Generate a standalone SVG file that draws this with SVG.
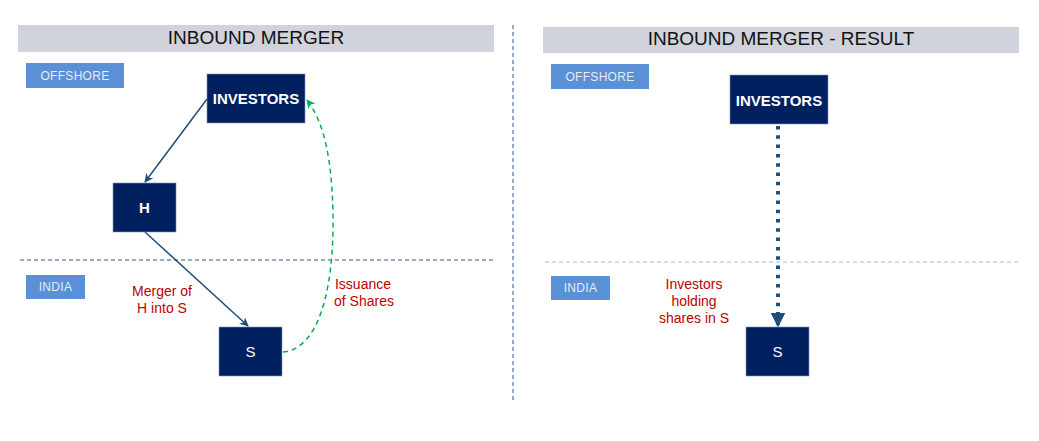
<svg xmlns="http://www.w3.org/2000/svg" width="1039" height="441" viewBox="0 0 1039 441">
<style>
.title{fill:#d0d3dc}
.ttext{font-family:"Liberation Sans",Arial,sans-serif;font-size:19px;fill:#111;text-anchor:middle}
.lbl{fill:#5990d6}
.ltext{font-family:"Liberation Sans",Arial,sans-serif;font-size:12px;fill:#e4ecf7;text-anchor:middle;letter-spacing:0.3px}
.node{fill:#002060;stroke:#8093b8;stroke-width:0.6}
.ntext{font-family:"Liberation Sans",Arial,sans-serif;font-size:15px;font-weight:bold;fill:#fff;text-anchor:middle}
.stext{font-family:"Liberation Sans",Arial,sans-serif;font-size:15px;font-weight:normal;fill:#fff;text-anchor:middle}
.red{font-family:"Liberation Sans",Arial,sans-serif;font-size:14px;fill:#c00000;text-anchor:middle}
</style>
<defs>
<marker id="ab" viewBox="0 0 10 10" refX="9" refY="5" markerWidth="6" markerHeight="6" orient="auto" markerUnits="strokeWidth">
<path d="M0,0 L10,5 L0,10 L3,5 z" fill="#1f4e79"/>
</marker>
<marker id="ag" viewBox="0 0 10 10" refX="9" refY="5" markerWidth="6" markerHeight="6" orient="auto" markerUnits="strokeWidth">
<path d="M0,0 L10,5 L0,10 L3,5 z" fill="#00b050"/>
</marker>
<marker id="ad" viewBox="0 0 10 10" refX="9" refY="5" markerWidth="3.6" markerHeight="3.6" orient="auto" markerUnits="strokeWidth">
<path d="M0,0 L10,5 L0,10 z" fill="#1f4e79"/>
</marker>
</defs>
<rect width="1039" height="441" fill="#fff"/>
<g id="frame">
<rect class="title" x="18" y="25" width="476" height="27"/>
<text class="ttext" x="256" y="44">INBOUND MERGER</text>
<rect class="title" x="543" y="27" width="476" height="26"/>
<text class="ttext" x="781" y="45">INBOUND MERGER - RESULT</text>
<line x1="513" y1="25" x2="513" y2="403" stroke="#2f5597" stroke-width="1" stroke-dasharray="4 3"/>
<line x1="20" y1="260" x2="495" y2="260" stroke="#2f5597" stroke-width="1" stroke-dasharray="4 3"/>
<line x1="545" y1="262" x2="1019" y2="262" stroke="#adb9ca" stroke-width="1.2" stroke-dasharray="4 3"/>
</g>
<g id="offshore-left"><rect class="lbl" x="26" y="63" width="98" height="25"/><text class="ltext" x="75" y="80">OFFSHORE</text></g>
<g id="india-left"><rect class="lbl" x="26" y="275" width="59" height="24"/><text class="ltext" x="55.5" y="291">INDIA</text></g>
<g id="offshore-right"><rect class="lbl" x="551" y="64" width="98" height="25"/><text class="ltext" x="600" y="81">OFFSHORE</text></g>
<g id="india-right"><rect class="lbl" x="551" y="276" width="59" height="24"/><text class="ltext" x="580.5" y="292">INDIA</text></g>
<g id="connectors">
<line x1="207" y1="99" x2="145" y2="182" stroke="#1f4e79" stroke-width="1.5" marker-end="url(#ab)"/>
<line x1="145" y1="232" x2="248" y2="326" stroke="#1f4e79" stroke-width="1.5" marker-end="url(#ab)"/>
<path d="M283,352 C325,348 334,270 333,215 C332,165 326,125 307,100" fill="none" stroke="#00b050" stroke-width="1.5" stroke-dasharray="5 4" marker-end="url(#ag)"/>
<line x1="778" y1="126" x2="778" y2="326" stroke="#1f4e79" stroke-width="4" stroke-dasharray="3.5 5.8" marker-end="url(#ad)"/>
</g>
<g id="investors-left"><rect class="node" x="207" y="74" width="98" height="49"/><text class="ntext" x="256" y="104">INVESTORS</text></g>
<g id="h"><rect class="node" x="113" y="183" width="63" height="49"/><text class="ntext" x="144.5" y="213">H</text></g>
<g id="s-left"><rect class="node" x="219" y="327" width="63" height="49"/><text class="stext" x="250.5" y="357">S</text></g>
<g id="investors-right"><rect class="node" x="730" y="75" width="98" height="49"/><text class="ntext" x="779" y="106">INVESTORS</text></g>
<g id="s-right"><rect class="node" x="746" y="327" width="63" height="49"/><text class="stext" x="777.5" y="357">S</text></g>
<g id="labels">
<text class="red" x="162" y="296">Merger of</text>
<text class="red" x="162" y="313">H into S</text>
<text class="red" x="363" y="289">Issuance</text>
<text class="red" x="364" y="306">of Shares</text>
<text class="red" x="694" y="289">Investors</text>
<text class="red" x="694" y="306">holding</text>
<text class="red" x="694" y="323">shares in S</text>
</g>
</svg>
